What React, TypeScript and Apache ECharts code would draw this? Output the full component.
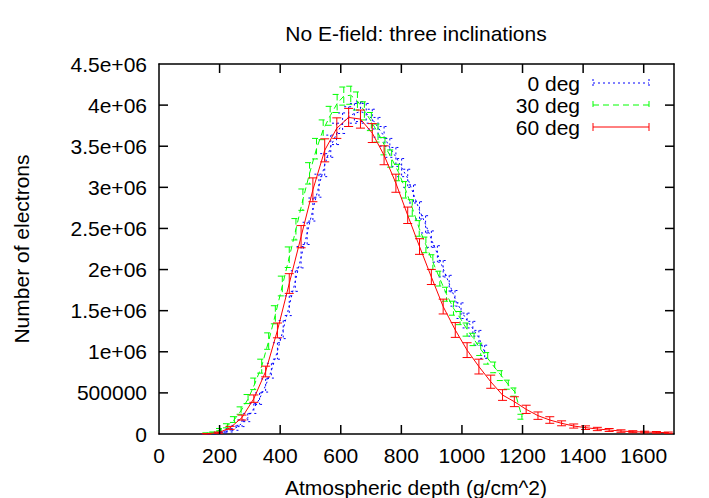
import React, { useEffect, useRef } from 'react';
import * as echarts from 'echarts';

const FONT = '"Liberation Sans", Arial, Helvetica, sans-serif';
const FS = 21;

const TITLE = 'No E-field: three inclinations';
const X_NAME = 'Atmospheric depth (g/cm^2)';
const Y_NAME = 'Number of electrons';
const LEGEND_NAMES = ['0 deg', '30 deg', '60 deg'];

// 0 deg (blue)
const xBlue = [156, 176, 196, 215, 235, 254, 274, 293, 313, 332, 352, 371, 391, 410, 430, 450, 469, 489, 508, 528, 547, 567, 586, 606, 626, 645, 665, 684, 704, 723, 743, 762, 782, 801, 821, 840, 860, 880, 899, 919, 938, 958, 977, 997, 1017, 1036, 1056, 1075];
const yBlue = [1e3, 4e3, 10e3, 25e3, 45e3, 75e3, 130e3, 200e3, 310e3, 430e3, 590e3, 770e3, 1.01e6, 1.27e6, 1.56e6, 1.86e6, 2.15e6, 2.44e6, 2.73e6, 3.02e6, 3.27e6, 3.5e6, 3.65e6, 3.78e6, 3.86e6, 3.9e6, 3.92e6, 3.9e6, 3.83e6, 3.73e6, 3.62e6, 3.48e6, 3.37e6, 3.24e6, 3.11e6, 2.92e6, 2.72e6, 2.55e6, 2.37e6, 2.19e6, 2.01e6, 1.83e6, 1.65e6, 1.5e6, 1.38e6, 1.28e6, 1.17e6, 1.0e6];
const eBlue = [1e3, 3e3, 6e3, 12e3, 20e3, 30e3, 40e3, 50e3, 60e3, 70e3, 80e3, 90e3, 100e3, 110e3, 120e3, 125e3, 130e3, 135e3, 140e3, 140e3, 140e3, 135e3, 130e3, 125e3, 120e3, 120e3, 120e3, 120e3, 120e3, 120e3, 120e3, 115e3, 115e3, 110e3, 110e3, 110e3, 105e3, 105e3, 100e3, 100e3, 100e3, 100e3, 95e3, 95e3, 90e3, 90e3, 90e3, 80e3];

// 30 deg (green)
const xGreen = [158, 181, 203, 226, 249, 271, 294, 316, 339, 362, 384, 407, 430, 452, 475, 497, 520, 542, 565, 588, 610, 633, 655, 678, 701, 723, 746, 768, 791, 814, 836, 859, 881, 904, 927, 949, 972, 994, 1017, 1040, 1062, 1085, 1108, 1130, 1153, 1175, 1198];
const yGreen = [9e3, 17e3, 52e3, 100e3, 176e3, 285e3, 425e3, 610e3, 825e3, 1.13e6, 1.45e6, 1.8e6, 2.15e6, 2.49e6, 2.85e6, 3.17e6, 3.47e6, 3.7e6, 3.87e6, 4.02e6, 4.11e6, 4.12e6, 4.05e6, 3.93e6, 3.8e6, 3.66e6, 3.5e6, 3.35e6, 3.18e6, 2.97e6, 2.75e6, 2.5e6, 2.3e6, 2.09e6, 1.89e6, 1.7e6, 1.53e6, 1.41e6, 1.27e6, 1.15e6, 1.03e6, 0.92e6, 0.81e6, 0.71e6, 0.6e6, 0.51e6, 0.21e6];
const eGreen = [5e3, 8e3, 15e3, 25e3, 35e3, 45e3, 55e3, 70e3, 85e3, 100e3, 110e3, 120e3, 125e3, 130e3, 130e3, 130e3, 125e3, 120e3, 115e3, 110e3, 110e3, 110e3, 110e3, 110e3, 110e3, 110e3, 105e3, 105e3, 100e3, 100e3, 100e3, 95e3, 95e3, 90e3, 90e3, 85e3, 85e3, 80e3, 80e3, 75e3, 75e3, 70e3, 65e3, 60e3, 55e3, 50e3, 30e3];

// 60 deg (red)
const xRed = [156, 196, 235, 274, 313, 352, 391, 430, 469, 508, 547, 587, 626, 665, 704, 743, 782, 821, 860, 899, 938, 978, 1017, 1056, 1095, 1134, 1173, 1212, 1251, 1290, 1329, 1369, 1408, 1447, 1486, 1525, 1564, 1603, 1642, 1681];
const yRed = [3e3, 16e3, 75e3, 200e3, 430e3, 760e3, 1.26e6, 1.83e6, 2.4e6, 2.97e6, 3.45e6, 3.72e6, 3.85e6, 3.83e6, 3.66e6, 3.39e6, 3.05e6, 2.66e6, 2.28e6, 1.91e6, 1.55e6, 1.265e6, 1.02e6, 0.82e6, 0.636e6, 0.474e6, 0.393e6, 0.3e6, 0.223e6, 0.17e6, 0.13e6, 0.097e6, 0.077e6, 0.061e6, 0.049e6, 0.036e6, 0.028e6, 0.024e6, 0.02e6, 0.016e6];
const eRed = [2e3, 8e3, 18e3, 30e3, 45e3, 65e3, 90e3, 120e3, 135e3, 145e3, 140e3, 125e3, 110e3, 110e3, 115e3, 115e3, 110e3, 100e3, 95e3, 92e3, 90e3, 90e3, 90e3, 90e3, 80e3, 65e3, 60e3, 50e3, 45e3, 40e3, 30e3, 25e3, 22e3, 20e3, 18e3, 15e3, 12e3, 10e3, 10e3, 8e3];

const X_MIN = 0;
const X_MAX = 1700;
const X_STEP = 200;
const Y_MIN = 0;
const Y_MAX = 4.5e6;
const Y_STEP = 5e5;

// inward tick marks (gnuplot style, mirrored on all four sides)
const X_TICKS = [200, 400, 600, 800, 1000, 1200, 1400, 1600];
const Y_TICKS = [5e5, 1e6, 1.5e6, 2e6, 2.5e6, 3e6, 3.5e6, 4e6];

const BLUE = '#0000ff';
const GREEN = '#00ff00';
const RED = '#ff0000';
const DASH_BLUE = [2, 3];
const DASH_GREEN = [6, 4];
const TICK_LEN = 9;
const FRAME_W = 1.5;

function pairs(xs: number[], ys: number[]) {
  return xs.map((x, i) => [x, ys[i]]);
}
function triples(xs: number[], ys: number[], es: number[]) {
  return xs.map((x, i) => [x, ys[i], es[i]]);
}

function yFmt(v: number) {
  if (v === 0) return '0';
  if (v === 500000) return '500000';
  return String(+(v / 1e6).toFixed(2)) + 'e+06';
}

function lineSeries(name: string, color: string, dash: any, data: number[][], z: number) {
  return {
    type: 'line',
    name,
    data,
    symbol: 'none',
    z,
    lineStyle: { color, width: 1, type: dash },
    itemStyle: { color },
    silent: true,
  };
}

function errSeries(name: string, color: string, dash: number[] | null, data: number[][], z: number) {
  return {
    type: 'custom',
    name: name + ' err',
    data,
    z,
    encode: { x: 0, y: 1 },
    silent: true,
    renderItem: (params: any, api: any) => {
      const x = api.value(0);
      const y = api.value(1);
      const e = api.value(2);
      const t = api.coord([x, y + e]);
      const b = api.coord([x, Math.max(y - e, 0)]);
      const style: any = { stroke: color, lineWidth: 1, fill: null };
      if (dash) style.lineDash = dash;
      const w = 4.5;
      return {
        type: 'group',
        children: [
          { type: 'line', shape: { x1: t[0], y1: t[1], x2: b[0], y2: b[1] }, style },
          { type: 'line', shape: { x1: t[0] - w, y1: t[1], x2: t[0] + w, y2: t[1] }, style },
          { type: 'line', shape: { x1: b[0] - w, y1: b[1], x2: b[0] + w, y2: b[1] }, style },
        ],
      };
    },
  };
}

function tickSeries(values: number[], horizontal: boolean) {
  return {
    type: 'custom',
    name: horizontal ? 'yticks' : 'xticks',
    data: values.map((v) => (horizontal ? [X_MIN, v] : [v, Y_MIN])),
    encode: { x: 0, y: 1 },
    z: 10,
    silent: true,
    renderItem: (params: any, api: any) => {
      const cs = params.coordSys;
      const p = api.coord([api.value(0), api.value(1)]);
      const style = { stroke: '#000', lineWidth: FRAME_W, fill: null };
      if (horizontal) {
        const y = p[1];
        return {
          type: 'group',
          children: [
            { type: 'line', shape: { x1: cs.x, y1: y, x2: cs.x + TICK_LEN, y2: y }, style },
            { type: 'line', shape: { x1: cs.x + cs.width, y1: y, x2: cs.x + cs.width - TICK_LEN, y2: y }, style },
          ],
        };
      }
      const x = p[0];
      return {
        type: 'group',
        children: [
          { type: 'line', shape: { x1: x, y1: cs.y + cs.height, x2: x, y2: cs.y + cs.height - TICK_LEN }, style },
          { type: 'line', shape: { x1: x, y1: cs.y, x2: x, y2: cs.y + TICK_LEN }, style },
        ],
      };
    },
  };
}

function legendRow(label: string, y: number, color: string, dash: number[] | null) {
  const style: any = { stroke: color, lineWidth: 1, fill: null };
  if (dash) style.lineDash = dash;
  const x1 = 593;
  const x2 = 649;
  return [
    {
      type: 'text',
      x: 580,
      y,
      style: { text: label, fontSize: FS, fontFamily: FONT, fill: '#000', align: 'right', verticalAlign: 'middle' },
    },
    { type: 'line', shape: { x1, y1: y, x2, y2: y }, style: { ...style } },
    { type: 'line', shape: { x1, y1: y - 4, x2: x1, y2: y + 4 }, style: { ...style } },
    { type: 'line', shape: { x1: x2, y1: y - 4, x2, y2: y + 4 }, style: { ...style } },
  ];
}

function axisLine() {
  return { show: true, onZero: false, lineStyle: { color: '#000', width: FRAME_W } };
}

export default function App() {
  const ref = useRef<HTMLDivElement>(null);

  useEffect(() => {
    if (!ref.current) return;
    const chart = echarts.init(ref.current, null, { renderer: 'svg' });
    const labelStyle = { fontSize: FS, fontFamily: FONT, color: '#000' };

    const option: any = {
      animation: false,
      backgroundColor: '#fff',
      grid: { left: 159, right: 35, top: 64, bottom: 64, containLabel: false },
      xAxis: [
        {
          type: 'value',
          min: X_MIN,
          max: X_MAX,
          interval: X_STEP,
          position: 'bottom',
          axisLine: axisLine(),
          axisTick: { show: false },
          splitLine: { show: false },
          axisLabel: { ...labelStyle, margin: 11, showMaxLabel: false, formatter: (v: number) => String(v) },
        },
        {
          type: 'value',
          min: X_MIN,
          max: X_MAX,
          interval: X_STEP,
          position: 'top',
          axisLine: axisLine(),
          axisTick: { show: false },
          splitLine: { show: false },
          axisLabel: { show: false },
        },
      ],
      yAxis: [
        {
          type: 'value',
          min: Y_MIN,
          max: Y_MAX,
          interval: Y_STEP,
          position: 'left',
          axisLine: axisLine(),
          axisTick: { show: false },
          splitLine: { show: false },
          axisLabel: { ...labelStyle, margin: 12, formatter: yFmt },
        },
        {
          type: 'value',
          min: Y_MIN,
          max: Y_MAX,
          interval: Y_STEP,
          position: 'right',
          axisLine: axisLine(),
          axisTick: { show: false },
          splitLine: { show: false },
          axisLabel: { show: false },
        },
      ],
      series: [
        tickSeries(X_TICKS, false),
        tickSeries(Y_TICKS, true),
        lineSeries(LEGEND_NAMES[0], BLUE, DASH_BLUE, pairs(xBlue, yBlue), 2),
        errSeries(LEGEND_NAMES[0], BLUE, DASH_BLUE, triples(xBlue, yBlue, eBlue), 2),
        lineSeries(LEGEND_NAMES[1], GREEN, DASH_GREEN, pairs(xGreen, yGreen), 3),
        errSeries(LEGEND_NAMES[1], GREEN, DASH_GREEN, triples(xGreen, yGreen, eGreen), 3),
        lineSeries(LEGEND_NAMES[2], RED, 'solid', pairs(xRed, yRed), 4),
        errSeries(LEGEND_NAMES[2], RED, null, triples(xRed, yRed, eRed), 4),
      ],
      graphic: [
        {
          type: 'text',
          x: 416,
          y: 33,
          style: { text: TITLE, fontSize: FS, fontFamily: FONT, fill: '#000', align: 'center', verticalAlign: 'middle' },
        },
        {
          type: 'text',
          x: 416,
          y: 487,
          style: { text: X_NAME, fontSize: FS, fontFamily: FONT, fill: '#000', align: 'center', verticalAlign: 'middle' },
        },
        {
          type: 'text',
          x: 21,
          y: 249,
          rotation: Math.PI / 2,
          style: { text: Y_NAME, fontSize: FS, fontFamily: FONT, fill: '#000', align: 'center', verticalAlign: 'middle' },
        },
        ...legendRow(LEGEND_NAMES[0], 83, BLUE, DASH_BLUE),
        ...legendRow(LEGEND_NAMES[1], 105, GREEN, DASH_GREEN),
        ...legendRow(LEGEND_NAMES[2], 127, RED, null),
      ],
    };
    chart.setOption(option);
    return () => {
      chart.dispose();
    };
  }, []);

  return (
    <div
      ref={ref}
      style={{ position: 'fixed', left: 0, top: 0, width: 709, height: 498, background: '#fff' }}
    />
  );
}
